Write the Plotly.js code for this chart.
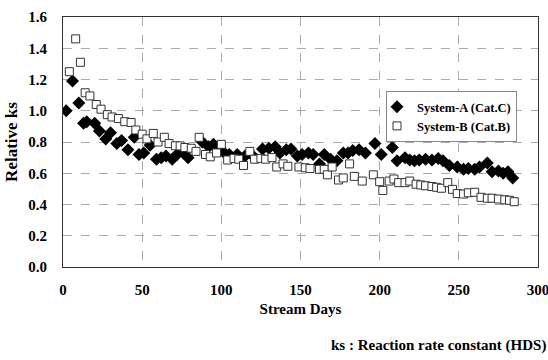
<!DOCTYPE html>
<html>
<head>
<meta charset="utf-8">
<script src="https://cdn.plot.ly/plotly-3.0.1.min.js"></script>
<style>html,body{margin:0;padding:0;background:#fff;}#chart{width:548px;height:360px;}</style>
</head>
<body>
<div id="chart"></div>
<script>
const seriesAName = "System-A (Cat.C)";
const seriesBName = "System-B (Cat.B)";
const daysA = [2,6,10,13,15,20,23,27,30,34,37,41,45,48,51,55,59,62,65,69,72,76,79,88,92,95,98,101,105,110,115,120,126,130,134,137,141,144,148,151,155,158,162,165,169,173,177,180,183,187,191,197,201,208,211,216,219,222,225,229,233,237,240,244,249,253,256,260,263,268,271,275,278,281,284];
const ksA = [1.00,1.19,1.05,0.92,0.93,0.92,0.87,0.82,0.86,0.79,0.81,0.75,0.83,0.72,0.73,0.78,0.69,0.70,0.71,0.69,0.72,0.73,0.70,0.80,0.77,0.785,0.77,0.74,0.72,0.72,0.71,0.71,0.755,0.76,0.77,0.73,0.75,0.755,0.71,0.72,0.73,0.72,0.66,0.72,0.69,0.68,0.73,0.73,0.745,0.75,0.73,0.79,0.72,0.765,0.68,0.70,0.685,0.68,0.685,0.69,0.685,0.695,0.68,0.65,0.64,0.625,0.63,0.625,0.64,0.665,0.61,0.615,0.60,0.61,0.57];
const daysB = [4,8,11,14,17,21,24,28,31,35,39,43,46,50,53,57,60,64,67,71,74,77,81,84,86,90,93,97,100,104,108,111,114,118,121,125,128,132,135,139,142,149,153,156,162,165,167,170,174,177,181,184,189,196,200,202,206,209,212,216,219,223,226,229,233,236,239,243,246,249,253,256,260,264,268,271,275,279,282,285];
const ksB = [1.25,1.46,1.31,1.115,1.095,1.04,1.01,0.975,0.96,0.95,0.93,0.925,0.877,0.85,0.82,0.855,0.80,0.83,0.79,0.776,0.775,0.765,0.76,0.74,0.83,0.72,0.705,0.73,0.785,0.685,0.695,0.69,0.65,0.74,0.69,0.695,0.69,0.70,0.64,0.66,0.645,0.64,0.635,0.63,0.625,0.625,0.59,0.64,0.557,0.57,0.66,0.58,0.55,0.59,0.546,0.49,0.55,0.563,0.54,0.54,0.55,0.53,0.525,0.52,0.515,0.51,0.504,0.54,0.497,0.47,0.467,0.475,0.478,0.446,0.44,0.44,0.435,0.43,0.427,0.418];
const xTicks = [0,50,100,150,200,250,300];
const yTicks = [0,0.2,0.4,0.6,0.8,1.0,1.2,1.4,1.6];

const FONT = "Liberation Serif, Times New Roman, serif";
const traces = [
  {x: daysA, y: ksA, name: seriesAName, type: "scatter", mode: "markers",
   marker: {symbol: "diamond", size: 10, color: "#000"}},
  {x: daysB, y: ksB, name: seriesBName, type: "scatter", mode: "markers",
   marker: {symbol: "square", size: 8, color: "#fff", line: {color: "#333", width: 1}}}
];
const axisCommon = {
  showline: true, linecolor: "#333", linewidth: 1, mirror: true,
  showgrid: true, gridcolor: "#aaa", griddash: "dash", gridwidth: 1,
  zeroline: false, ticks: "outside", tickcolor: "rgba(0,0,0,0)",
  ticklabeloverflow: "allow",
  tickfont: {family: FONT, size: 15, color: "#000", weight: "bold"}
};
const layout = {
  width: 548, height: 360,
  margin: {l: 63, r: 10, t: 17, b: 93},
  paper_bgcolor: "#fff", plot_bgcolor: "#fff",
  font: {family: FONT, color: "#000"},
  showlegend: true,
  legend: {x: 0.68, y: 0.704, xanchor: "left", yanchor: "top",
    bordercolor: "#888", borderwidth: 1, bgcolor: "#fff",
    font: {family: FONT, size: 12.5, color: "#000", weight: "bold"},
    itemwidth: 30, indentation: -10, tracegroupgap: 0},
  xaxis: Object.assign({}, axisCommon, {
    range: [0, 300], tickvals: xTicks, ticktext: xTicks.map(String), ticklen: 9,
    title: {text: "Stream Days", standoff: 6, font: {family: FONT, size: 15, color: "#000", weight: "bold"}}
  }),
  yaxis: Object.assign({}, axisCommon, {
    range: [0, 1.6], tickvals: yTicks, ticktext: yTicks.map(v => v.toFixed(1)), ticklen: 12,
    title: {text: "Relative ks", standoff: 6, font: {family: FONT, size: 17, color: "#000", weight: "bold"}}
  }),
  annotations: [{
    text: "ks : Reaction rate constant (HDS)", xref: "paper", yref: "paper",
    x: 1.02, y: -0.312, xanchor: "right", yanchor: "middle", showarrow: false,
    font: {family: FONT, size: 15, color: "#000", weight: "bold"}
  }]
};
Plotly.newPlot("chart", traces, layout, {displayModeBar: false, staticPlot: true});
</script>
</body>
</html>
